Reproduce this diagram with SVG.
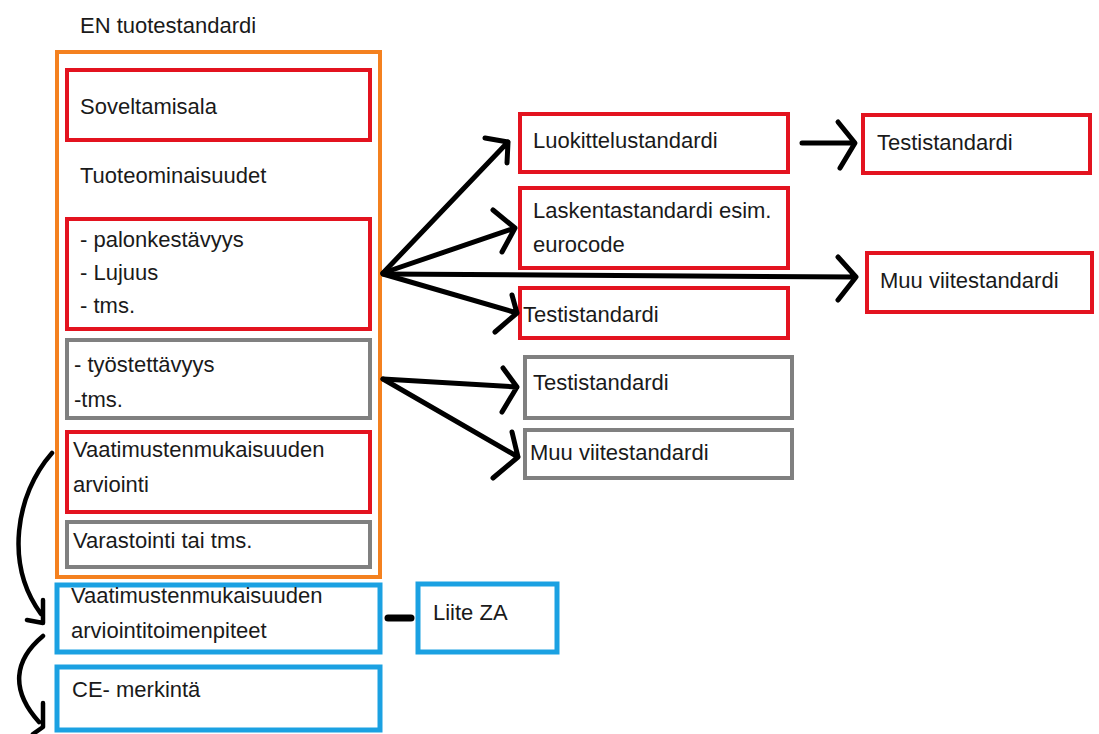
<svg xmlns="http://www.w3.org/2000/svg" width="1099" height="734" viewBox="0 0 1099 734">
<style>
text{font-family:"Liberation Sans",Arial,sans-serif;font-size:22px;fill:#1a1a1a}
.or{fill:none;stroke:#f4811f;stroke-width:4}
.rd{fill:#fff;stroke:#e3131f;stroke-width:4}
.gr{fill:#fff;stroke:#808080;stroke-width:4}
.bl{fill:#fff;stroke:#1ba1e2;stroke-width:5}
.ar{fill:none;stroke:#000;stroke-width:5;stroke-linecap:round;stroke-linejoin:round}
</style>
<rect width="1099" height="734" fill="#fff"/>
<g id="title"><text x="80" y="33">EN tuotestandardi</text></g>
<g id="en-standard"><rect class="or" x="57" y="52" width="323" height="525"/>
<text x="80" y="183">Tuoteominaisuudet</text></g>
<g id="soveltamisala"><rect class="rd" x="67" y="70" width="303" height="70"/><text x="80" y="114">Soveltamisala</text></g>
<g id="ominaisuudet-red"><rect class="rd" x="67" y="219" width="303" height="110"/>
<text x="80" y="247">- palonkestävyys</text><text x="80" y="280">- Lujuus</text><text x="80" y="313">- tms.</text></g>
<g id="ominaisuudet-grey"><rect class="gr" x="67" y="340" width="303" height="78"/>
<text x="74" y="372">- työstettävyys</text><text x="74" y="407">-tms.</text></g>
<g id="arviointi"><rect class="rd" x="67" y="432" width="303" height="80"/>
<text x="73" y="457">Vaatimustenmukaisuuden</text><text x="73" y="492">arviointi</text></g>
<g id="varastointi"><rect class="gr" x="67" y="522" width="303" height="45"/><text x="73" y="548">Varastointi tai tms.</text></g>
<g id="toimenpiteet"><rect class="bl" x="57" y="585" width="323" height="67"/>
<text x="71" y="603">Vaatimustenmukaisuuden</text><text x="71" y="638">arviointitoimenpiteet</text></g>
<g id="ce"><rect class="bl" x="57" y="667" width="323" height="63"/><text x="72" y="697">CE- merkintä</text></g>
<g id="liite"><rect class="bl" x="418" y="584" width="139" height="68"/><text x="433" y="620">Liite ZA</text></g>
<g id="luokittelu"><rect class="rd" x="520" y="114" width="268" height="58"/><text x="533" y="148">Luokittelustandardi</text></g>
<g id="laskenta"><rect class="rd" x="520" y="188" width="268" height="80"/>
<text x="533" y="218">Laskentastandardi esim.</text><text x="533" y="252">eurocode</text></g>
<g id="testi-red"><rect class="rd" x="520" y="288" width="268" height="50"/><text x="523" y="322">Testistandardi</text></g>
<g id="testi-grey"><rect class="gr" x="525" y="357" width="267" height="61"/><text x="533" y="390">Testistandardi</text></g>
<g id="muu-grey"><rect class="gr" x="525" y="430" width="267" height="48"/><text x="530" y="460">Muu viitestandardi</text></g>
<g id="testi-right"><rect class="rd" x="863" y="115" width="227" height="58"/><text x="877" y="150">Testistandardi</text></g>
<g id="muu-right"><rect class="rd" x="867" y="253" width="225" height="59"/><text x="880" y="288">Muu viitestandardi</text></g>
<g id="connectors">
<path class="ar" d="M383,273 L508,142 M485,138 L508,142 L507,163"/>
<path class="ar" d="M383,273 L515,228 M493,210 L515,228 L502,252"/>
<path class="ar" d="M383,274 L856,277 M838,257 L856,277 L838,300"/>
<path class="ar" d="M383,274 L517,313 M512,295 L517,313 L495,332"/>
<path class="ar" d="M383,379 L517,387 M503,368 L517,387 L502,412"/>
<path class="ar" d="M383,379 L518,457 M512,432 L518,457 L493,478"/>
<path class="ar" d="M802,143 L854,143 M838,122 L855,143 L840,168"/>
<path class="ar" d="M388,618 L411,618" style="stroke-width:7"/>
<path class="ar" d="M52,453 C15,495 5,565 41,614 M43,600 L43,623 L27,620" style="stroke-width:4.5"/>
<path class="ar" d="M43,636 C14,660 10,690 39,722 M43,703 L43,727 L33,734" style="stroke-width:4.5"/>
</g>
</svg>
